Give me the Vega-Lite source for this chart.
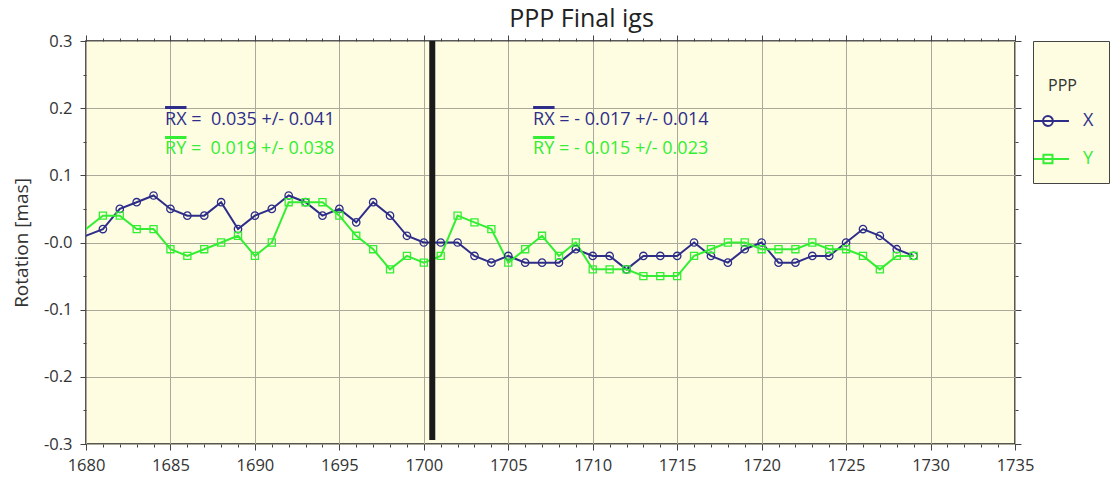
{
  "$schema": "https://vega.github.io/schema/vega-lite/v6.json",
  "width": 929,
  "height": 403,
  "autosize": {"type": "none"},
  "padding": {"left": 86, "top": 41, "right": 105, "bottom": 40},
  "background": "white",
  "title": {"text": "PPP Final igs", "fontSize": 25, "fontWeight": "normal", "color": "#222", "dx": 31, "offset": 1, "font": "Open Sans"},
  "config": {
    "font": "Open Sans",
    "view": {"fill": "#fefde2", "stroke": "#222", "strokeWidth": 1.5},
    "axis": {"domain": false, "tickColor": "#444", "tickWidth": 1, "labelColor": "#333", "labelFont": "Open Sans", "labelFontSize": 16.5, "gridColor": "#aaa99a", "gridWidth": 1, "gridOpacity": 1, "titleFont": "Open Sans", "titleFontWeight": "normal", "titleColor": "#333", "titleFontSize": 19},
    "legend": {"fillColor": "#fefde2", "strokeColor": "#444", "padding": 15, "titleFontSize": 16, "titleFontWeight": "normal", "titleColor": "#333", "titleFont": "Open Sans", "titleLineHeight": 22, "titlePadding": 11, "labelFontSize": 18, "labelFont": "Open Sans", "labelOffset": 3, "symbolSize": 900, "rowPadding": 13, "symbolStrokeWidth": 2, "symbolFillColor": "transparent"}
  },
  "resolve": {"axis": {"x": "independent", "y": "independent"}},
  "datasets": {
    "series": [
      {"year": 1679, "series": "X", "value": 0.0},
      {"year": 1681, "series": "X", "value": 0.02},
      {"year": 1682, "series": "X", "value": 0.05},
      {"year": 1683, "series": "X", "value": 0.06},
      {"year": 1684, "series": "X", "value": 0.07},
      {"year": 1685, "series": "X", "value": 0.05},
      {"year": 1686, "series": "X", "value": 0.04},
      {"year": 1687, "series": "X", "value": 0.04},
      {"year": 1688, "series": "X", "value": 0.06},
      {"year": 1689, "series": "X", "value": 0.02},
      {"year": 1690, "series": "X", "value": 0.04},
      {"year": 1691, "series": "X", "value": 0.05},
      {"year": 1692, "series": "X", "value": 0.07},
      {"year": 1693, "series": "X", "value": 0.06},
      {"year": 1694, "series": "X", "value": 0.04},
      {"year": 1695, "series": "X", "value": 0.05},
      {"year": 1696, "series": "X", "value": 0.03},
      {"year": 1697, "series": "X", "value": 0.06},
      {"year": 1698, "series": "X", "value": 0.04},
      {"year": 1699, "series": "X", "value": 0.01},
      {"year": 1700, "series": "X", "value": 0.0},
      {"year": 1701, "series": "X", "value": 0.0},
      {"year": 1702, "series": "X", "value": 0.0},
      {"year": 1703, "series": "X", "value": -0.02},
      {"year": 1704, "series": "X", "value": -0.03},
      {"year": 1705, "series": "X", "value": -0.02},
      {"year": 1706, "series": "X", "value": -0.03},
      {"year": 1707, "series": "X", "value": -0.03},
      {"year": 1708, "series": "X", "value": -0.03},
      {"year": 1709, "series": "X", "value": -0.01},
      {"year": 1710, "series": "X", "value": -0.02},
      {"year": 1711, "series": "X", "value": -0.02},
      {"year": 1712, "series": "X", "value": -0.04},
      {"year": 1713, "series": "X", "value": -0.02},
      {"year": 1714, "series": "X", "value": -0.02},
      {"year": 1715, "series": "X", "value": -0.02},
      {"year": 1716, "series": "X", "value": 0.0},
      {"year": 1717, "series": "X", "value": -0.02},
      {"year": 1718, "series": "X", "value": -0.03},
      {"year": 1719, "series": "X", "value": -0.01},
      {"year": 1720, "series": "X", "value": 0.0},
      {"year": 1721, "series": "X", "value": -0.03},
      {"year": 1722, "series": "X", "value": -0.03},
      {"year": 1723, "series": "X", "value": -0.02},
      {"year": 1724, "series": "X", "value": -0.02},
      {"year": 1725, "series": "X", "value": 0.0},
      {"year": 1726, "series": "X", "value": 0.02},
      {"year": 1727, "series": "X", "value": 0.01},
      {"year": 1728, "series": "X", "value": -0.01},
      {"year": 1729, "series": "X", "value": -0.02},
      {"year": 1679, "series": "Y", "value": 0.0},
      {"year": 1681, "series": "Y", "value": 0.04},
      {"year": 1682, "series": "Y", "value": 0.04},
      {"year": 1683, "series": "Y", "value": 0.02},
      {"year": 1684, "series": "Y", "value": 0.02},
      {"year": 1685, "series": "Y", "value": -0.01},
      {"year": 1686, "series": "Y", "value": -0.02},
      {"year": 1687, "series": "Y", "value": -0.01},
      {"year": 1688, "series": "Y", "value": 0.0},
      {"year": 1689, "series": "Y", "value": 0.01},
      {"year": 1690, "series": "Y", "value": -0.02},
      {"year": 1691, "series": "Y", "value": 0.0},
      {"year": 1692, "series": "Y", "value": 0.06},
      {"year": 1693, "series": "Y", "value": 0.06},
      {"year": 1694, "series": "Y", "value": 0.06},
      {"year": 1695, "series": "Y", "value": 0.04},
      {"year": 1696, "series": "Y", "value": 0.01},
      {"year": 1697, "series": "Y", "value": -0.01},
      {"year": 1698, "series": "Y", "value": -0.04},
      {"year": 1699, "series": "Y", "value": -0.02},
      {"year": 1700, "series": "Y", "value": -0.03},
      {"year": 1701, "series": "Y", "value": -0.02},
      {"year": 1702, "series": "Y", "value": 0.04},
      {"year": 1703, "series": "Y", "value": 0.03},
      {"year": 1704, "series": "Y", "value": 0.02},
      {"year": 1705, "series": "Y", "value": -0.03},
      {"year": 1706, "series": "Y", "value": -0.01},
      {"year": 1707, "series": "Y", "value": 0.01},
      {"year": 1708, "series": "Y", "value": -0.02},
      {"year": 1709, "series": "Y", "value": 0.0},
      {"year": 1710, "series": "Y", "value": -0.04},
      {"year": 1711, "series": "Y", "value": -0.04},
      {"year": 1712, "series": "Y", "value": -0.04},
      {"year": 1713, "series": "Y", "value": -0.05},
      {"year": 1714, "series": "Y", "value": -0.05},
      {"year": 1715, "series": "Y", "value": -0.05},
      {"year": 1716, "series": "Y", "value": -0.02},
      {"year": 1717, "series": "Y", "value": -0.01},
      {"year": 1718, "series": "Y", "value": 0.0},
      {"year": 1719, "series": "Y", "value": 0.0},
      {"year": 1720, "series": "Y", "value": -0.01},
      {"year": 1721, "series": "Y", "value": -0.01},
      {"year": 1722, "series": "Y", "value": -0.01},
      {"year": 1723, "series": "Y", "value": 0.0},
      {"year": 1724, "series": "Y", "value": -0.01},
      {"year": 1725, "series": "Y", "value": -0.01},
      {"year": 1726, "series": "Y", "value": -0.02},
      {"year": 1727, "series": "Y", "value": -0.04},
      {"year": 1728, "series": "Y", "value": -0.02},
      {"year": 1729, "series": "Y", "value": -0.02}
    ],
    "notes": [
      {"tx": 1684.68, "ty": 0.1824, "series": "X", "label": "RX =\u00a0\u00a00.035 +/- 0.041"},
      {"tx": 1684.68, "ty": 0.1392, "series": "Y", "label": "RY =\u00a0\u00a00.019 +/- 0.038"},
      {"tx": 1706.47, "ty": 0.1824, "series": "X", "label": "RX = - 0.017 +/- 0.014"},
      {"tx": 1706.47, "ty": 0.1392, "series": "Y", "label": "RY = - 0.015 +/- 0.023"}
    ],
    "bars": [
      {"bx": 1684.68, "bx2": 1685.95, "by": 0.201, "series": "X"},
      {"bx": 1684.68, "bx2": 1685.95, "by": 0.1563, "series": "Y"},
      {"bx": 1706.47, "bx2": 1707.74, "by": 0.201, "series": "X"},
      {"bx": 1706.47, "bx2": 1707.74, "by": 0.1563, "series": "Y"}
    ],
    "split": [
      {"vx": 1700.5, "vy": 0.3, "vy2": -0.294}
    ]
  },
  "layer": [
    {
      "data": {"name": "series"},
      "mark": {"type": "line", "strokeWidth": 2, "clip": true},
      "encoding": {
        "x": {"field": "year", "type": "quantitative", "scale": {"domain": [1680, 1735], "nice": false, "zero": false},
          "axis": {"orient": "bottom", "values": [1680, 1685, 1690, 1695, 1700, 1705, 1710, 1715, 1720, 1725, 1730, 1735], "format": "d", "tickSize": 6, "grid": true, "title": null, "labelPadding": 7, "labelFlush": false}},
        "y": {"field": "value", "type": "quantitative", "scale": {"domain": [-0.3, 0.3], "nice": false, "zero": false},
          "axis": {"orient": "left", "values": [-0.3, -0.2, -0.1, 0, 0.1, 0.2, 0.3], "tickSize": 6, "grid": true, "title": "Rotation [mas]", "titlePadding": 12, "labelPadding": 8, "labelFlush": false,
            "labelExpr": "datum.value == 0 ? '-0.0' : (datum.value < 0 ? '-' : '') + format(abs(datum.value), '.1f')"}},
        "color": {"field": "series", "type": "nominal", "scale": {"domain": ["X", "Y"], "range": ["#2e2e8a", "#33ee33"]},
          "legend": {"orient": "none", "legendX": 947, "legendY": 0, "title": ["", "PPP\u00a0\u00a0\u00a0\u00a0\u00a0\u00a0\u00a0\u00a0\u00a0\u00a0\u00a0\u00a0"],
            "symbolType": {"expr": "datum.value === 'X' ? 'M-2,0L0.33,0M-1.4,0A0.33,0.33 0 1 0 -0.74,0A0.33,0.33 0 1 0 -1.4,0' : 'M-2,0L0.33,0M-1.37,-0.28L-0.77,-0.28L-0.77,0.28L-1.37,0.28Z'"},
            "labelColor": {"expr": "datum.value === 'X' ? '#2e2e8a' : '#33ee33'"}}}
      }
    },
    {
      "data": {"name": "series"},
      "transform": [{"filter": "datum.series === 'X'"}],
      "mark": {"type": "point", "shape": "circle", "filled": false, "size": 55, "strokeWidth": 1.3, "opacity": 1, "clip": true},
      "encoding": {
        "x": {"field": "year", "type": "quantitative", "scale": {"domain": [1680, 1735], "nice": false, "zero": false},
          "axis": {"orient": "bottom", "values": [1680,1681,1682,1683,1684,1685,1686,1687,1688,1689,1690,1691,1692,1693,1694,1695,1696,1697,1698,1699,1700,1701,1702,1703,1704,1705,1706,1707,1708,1709,1710,1711,1712,1713,1714,1715,1716,1717,1718,1719,1720,1721,1722,1723,1724,1725,1726,1727,1728,1729,1730,1731,1732,1733,1734,1735], "tickSize": 3, "grid": false, "labels": false, "title": null}},
        "y": {"field": "value", "type": "quantitative", "scale": {"domain": [-0.3, 0.3], "nice": false, "zero": false},
          "axis": {"orient": "left", "values": [-0.25, -0.15, -0.05, 0.05, 0.15, 0.25], "tickSize": 3, "grid": false, "labels": false, "title": null}},
        "color": {"field": "series", "type": "nominal", "scale": {"domain": ["X", "Y"], "range": ["#2e2e8a", "#33ee33"]}}
      }
    },
    {
      "data": {"name": "series"},
      "transform": [{"filter": "datum.series === 'Y'"}],
      "mark": {"type": "point", "shape": "square", "filled": false, "size": 50, "strokeWidth": 1.3, "opacity": 1, "clip": true},
      "encoding": {
        "x": {"field": "year", "type": "quantitative", "scale": {"domain": [1680, 1735], "nice": false, "zero": false}, "axis": null},
        "y": {"field": "value", "type": "quantitative", "scale": {"domain": [-0.3, 0.3], "nice": false, "zero": false}, "axis": null},
        "color": {"field": "series", "type": "nominal", "scale": {"domain": ["X", "Y"], "range": ["#2e2e8a", "#33ee33"]}}
      }
    },
    {
      "data": {"name": "notes"},
      "mark": {"type": "text", "align": "left", "baseline": "middle", "fontSize": 18, "font": "Open Sans"},
      "encoding": {
        "x": {"field": "tx", "type": "quantitative", "scale": {"domain": [1680, 1735], "nice": false, "zero": false},
          "axis": {"orient": "top", "values": [1680, 1685, 1690, 1695, 1700, 1705, 1710, 1715, 1720, 1725, 1730, 1735], "tickSize": 6, "grid": false, "labels": false, "title": null}},
        "y": {"field": "ty", "type": "quantitative", "scale": {"domain": [-0.3, 0.3], "nice": false, "zero": false},
          "axis": {"orient": "right", "values": [-0.3, -0.2, -0.1, 0, 0.1, 0.2, 0.3], "tickSize": 6, "grid": false, "labels": false, "title": null}},
        "text": {"field": "label"},
        "color": {"condition": {"test": "datum.series === 'X'", "value": "#2e2e8a"}, "value": "#33ee33"}
      }
    },
    {
      "data": {"name": "bars"},
      "mark": {"type": "rule", "strokeWidth": 3},
      "encoding": {
        "x": {"field": "bx", "type": "quantitative", "scale": {"domain": [1680, 1735], "nice": false, "zero": false},
          "axis": {"orient": "top", "values": [1680,1681,1682,1683,1684,1685,1686,1687,1688,1689,1690,1691,1692,1693,1694,1695,1696,1697,1698,1699,1700,1701,1702,1703,1704,1705,1706,1707,1708,1709,1710,1711,1712,1713,1714,1715,1716,1717,1718,1719,1720,1721,1722,1723,1724,1725,1726,1727,1728,1729,1730,1731,1732,1733,1734,1735], "tickSize": 3, "grid": false, "labels": false, "title": null}},
        "x2": {"field": "bx2"},
        "y": {"field": "by", "type": "quantitative", "scale": {"domain": [-0.3, 0.3], "nice": false, "zero": false},
          "axis": {"orient": "right", "values": [-0.25, -0.15, -0.05, 0.05, 0.15, 0.25], "tickSize": 3, "grid": false, "labels": false, "title": null}},
        "color": {"condition": {"test": "datum.series === 'X'", "value": "#2e2e8a"}, "value": "#33ee33"}
      }
    },
    {
      "data": {"name": "split"},
      "mark": {"type": "rule", "strokeWidth": 6, "color": "#1a1a1a"},
      "encoding": {
        "x": {"field": "vx", "type": "quantitative", "scale": {"domain": [1680, 1735], "nice": false, "zero": false}, "axis": null},
        "y": {"field": "vy", "type": "quantitative", "scale": {"domain": [-0.3, 0.3], "nice": false, "zero": false}, "axis": null},
        "y2": {"field": "vy2"}
      }
    }
  ]
}
